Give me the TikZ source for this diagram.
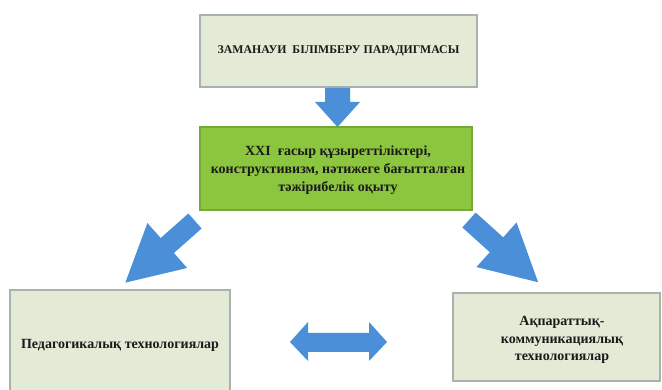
\documentclass[tikz,border=0pt]{standalone}
\usepackage{fontspec}
\setmainfont{Liberation Serif}
\definecolor{palegreen}{HTML}{E3EBD7}
\definecolor{paleborder}{HTML}{A9B3AE}
\definecolor{midgreen}{HTML}{8CC63F}
\definecolor{midborder}{HTML}{74A838}
\definecolor{arrowblue}{HTML}{4A8FD8}
\definecolor{txt}{HTML}{1A1A1A}
\tikzset{
  palebox/.style={draw=paleborder, line width=1.2pt, fill=palegreen, inner sep=0pt, text=txt, font=\bfseries\fontsize{11.8}{14}\selectfont},
  greenbox/.style={draw=midborder, line width=1.2pt, fill=midgreen, inner sep=0pt, text=txt},
  boxtext/.style={align=center, text=txt, inner sep=0pt},
  blockarrow/.style={fill=arrowblue, draw=none}
}
\begin{document}
\begin{tikzpicture}[x=1pt,y=-1pt]
\useasboundingbox (0,0) rectangle (662,390);
\fill[white] (0,0) rectangle (662,390);
% boxes
\node[palebox, minimum width=277pt, minimum height=72pt] (top) at (338.5,51) {ЗАМАНАУИ\ \ БІЛІМБЕРУ ПАРАДИГМАСЫ};
\node[greenbox, minimum width=272pt, minimum height=83pt] (mid) at (336,168.5) {};
\node[boxtext, font=\bfseries\fontsize{14}{18}\selectfont] (midtext) at (338,170) {XXI\ \ ғасыр құзыреттіліктері,\\ конструктивизм, нәтижеге бағытталған\\ тәжірибелік оқыту};
\node[palebox, minimum width=220pt, minimum height=110pt, font=\bfseries\fontsize{14}{16}\selectfont] (ped) at (120,345) {Педагогикалық технологиялар};
\node[palebox, minimum width=207pt, minimum height=88pt] (akt) at (556.5,337) {};
\node[boxtext, font=\bfseries\fontsize{14}{17.5}\selectfont] (akttext) at (562,340) {Ақпараттық-\\ коммуникациялық\\ технологиялар};
% down arrow
\fill[blockarrow] (325,88) -- (350,88) -- (350,102) -- (360,102) -- (337.5,127) -- (315,102) -- (325,102) -- cycle;
% left diagonal arrow
\begin{scope}[shift={(195,221)}, rotate=-138.5]
\fill[blockarrow] (0,-10) -- (37,-10) -- (37,-30) -- (93,0) -- (37,30) -- (37,10) -- (0,10) -- cycle;
\end{scope}
% right diagonal arrow
\begin{scope}[shift={(469,220)}, rotate=-42]
\fill[blockarrow] (0,-10) -- (37,-10) -- (37,-30) -- (93,0) -- (37,30) -- (37,10) -- (0,10) -- cycle;
\end{scope}
% double arrow
\fill[blockarrow] (290,342) -- (308,322) -- (308,333) -- (369,333) -- (369,322) -- (387,342) -- (369,361) -- (369,352) -- (308,352) -- (308,361) -- cycle;
\end{tikzpicture}
\end{document}
